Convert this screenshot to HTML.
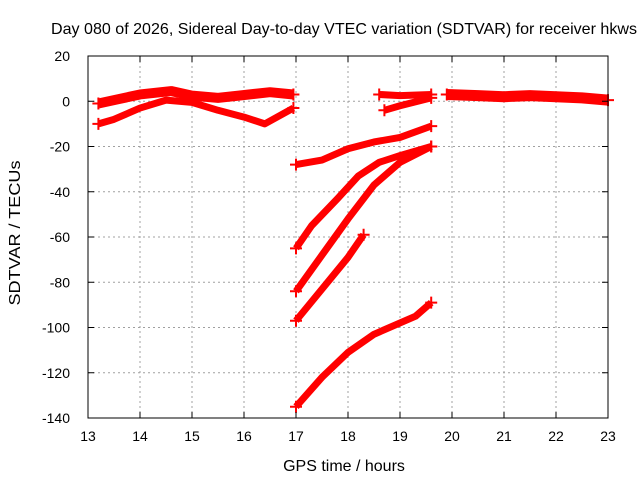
<!DOCTYPE html>
<html><head><meta charset="utf-8"><style>
body{margin:0;background:#fff}
svg{font-family:"Liberation Sans",sans-serif;font-size:14px}
</style></head><body>
<svg id="c" width="640" height="480">
<text x="344" y="34" text-anchor="middle" font-size="16" textLength="586" lengthAdjust="spacingAndGlyphs">Day 080 of 2026, Sidereal Day-to-day VTEC variation (SDTVAR) for receiver hkws</text>
<text x="344" y="471" text-anchor="middle" font-size="16">GPS time / hours</text>
<text transform="translate(20,233) rotate(-90)" text-anchor="middle" font-size="16" textLength="145" lengthAdjust="spacingAndGlyphs">SDTVAR / TECUs</text>
<g id="grid"></g><g id="marks"></g><g id="axes"></g>
</svg>
<script>
const xTicks=[13,14,15,16,17,18,19,20,21,22,23];
const yTicks=[20,0,-20,-40,-60,-80,-100,-120,-140];
const seriesA=[[13.2,-1],[13.6,1],[14,3],[14.6,4.5],[15,2.5],[15.5,1.5],[15.9,2.5],[16.5,4],[16.95,3]];
const seriesB=[[13.2,-10],[13.5,-8],[14,-3],[14.5,0.5],[15,-0.5],[15.5,-4],[16,-7],[16.4,-10],[16.95,-3]];
const seriesC=[[17,-28],[17.5,-26],[18,-21],[18.5,-18],[19,-16],[19.6,-11]];
const seriesD=[[17,-65],[17.3,-55],[17.8,-43],[18.2,-33],[18.6,-27],[19,-24],[19.6,-20]];
const seriesE=[[17,-84],[17.5,-68],[18,-52],[18.5,-37],[19,-27],[19.6,-20]];
const seriesF=[[17,-97],[17.5,-83],[18,-69],[18.3,-59]];
const seriesG=[[17,-135],[17.5,-122],[18,-111],[18.5,-103],[19,-98],[19.3,-95],[19.6,-89]];
const seriesH=[[18.6,3],[19,2.5],[19.6,3]];
const seriesI=[[18.7,-4],[19,-2],[19.6,1.5]];
const seriesJ=[[19.9,3],[20.5,2.5],[21,2],[21.5,2.5],[22,2],[22.5,1.5],[23,0.5]];
const allSeries=[seriesA,seriesB,seriesC,seriesD,seriesE,seriesF,seriesG,seriesH,seriesI,seriesJ];
const widths=[10,7,7,7,7,7,7,7,7,11];
const X0=88,X1=608,Y0=56,Y1=418;
const xs=h=>X0+(h-13)/10*(X1-X0);
const ys=v=>Y0+(20-v)/160*(Y1-Y0);
const NS="http://www.w3.org/2000/svg";
function mk(t,a,p){const e=document.createElementNS(NS,t);for(const k in a)e.setAttribute(k,a[k]);p.appendChild(e);return e;}
const grid=document.getElementById('grid'),axes=document.getElementById('axes'),marks=document.getElementById('marks');
xTicks.forEach(t=>{const x=xs(t);
 if(t>13&&t<23){const l=mk('line',{x1:x,x2:x,y1:Y0,y2:Y1,stroke:'#a0a0a0','stroke-dasharray':'2,3'},grid);
 
 }
 mk('line',{x1:x,x2:x,y1:Y1,y2:Y1-6,stroke:'#000'},axes);mk('line',{x1:x,x2:x,y1:Y0,y2:Y0+6,stroke:'#000'},axes);
 const tx=mk('text',{x:x,y:Y1+23,'text-anchor':'middle'},axes);tx.textContent=t;
 
 });
yTicks.forEach(t=>{const y=ys(t);
 if(t<20&&t>-140){const l=mk('line',{x1:X0,x2:X1,y1:y,y2:y,stroke:'#a0a0a0','stroke-dasharray':'2,3'},grid);
 
 }
 mk('line',{x1:X0,x2:X0+6,y1:y,y2:y,stroke:'#000'},axes);mk('line',{x1:X1,x2:X1-6,y1:y,y2:y,stroke:'#000'},axes);
 const tx=mk('text',{x:X0-18,y:y+5,'text-anchor':'end'},axes);tx.textContent=t;
 
 });
const box=mk('rect',{x:X0,y:Y0,width:X1-X0,height:Y1-Y0,fill:'none',stroke:'#000'},axes);


allSeries.forEach((s,i)=>{
 const p=mk('polyline',{points:s.map(d=>xs(d[0])+','+ys(d[1])).join(' '),fill:'none',stroke:'#f00','stroke-width':widths[i],'stroke-linejoin':'round'},marks);
 
 
 [s[0],s[s.length-1]].forEach(d=>{const x=xs(d[0]),y=ys(d[1]);
  mk('path',{d:`M${x-6},${y}H${x+6}M${x},${y-6}V${y+6}`,stroke:'#f00','stroke-width':2},marks);});
});
</script>
</body></html>
